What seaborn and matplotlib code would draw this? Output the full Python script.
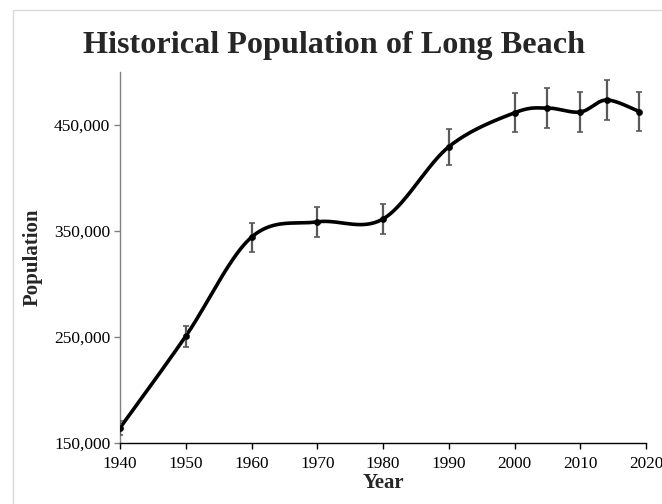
import numpy as np
import pandas as pd
import matplotlib
matplotlib.use("Agg")
import matplotlib.pyplot as plt
import seaborn as sns
from matplotlib.patches import Rectangle
from matplotlib.ticker import FuncFormatter

years = [1940, 1950, 1960, 1970, 1980, 1990, 2000, 2005, 2010, 2014, 2019]
population = [164271, 250767, 344168, 358633, 361355, 429433, 461522, 466000, 462257, 473577, 462628]
errors = [6600, 10000, 13800, 14300, 14500, 17200, 18500, 18600, 18500, 18900, 18500]
y_ticks = [150000, 250000, 350000, 450000]
x_ticks = [1940, 1950, 1960, 1970, 1980, 1990, 2000, 2010, 2020]


def smooth_curve(xs, ys, sx=6.6, sy=107 / 100000, n=40):
    """Catmull-Rom through the points, done in roughly pixel space like an Excel smoothed line."""
    p = np.column_stack([np.asarray(xs, float) * sx, np.asarray(ys, float) * sy])
    p = np.vstack([p[0], p, p[-1]])
    out = []
    t = np.linspace(0, 1, n)[:, None]
    for i in range(1, len(p) - 2):
        p0, p1, p2, p3 = p[i - 1], p[i], p[i + 1], p[i + 2]
        seg = 0.5 * ((2 * p1) + (-p0 + p2) * t + (2 * p0 - 5 * p1 + 4 * p2 - p3) * t ** 2
                     + (-p0 + 3 * p1 - 3 * p2 + p3) * t ** 3)
        out.append(seg if i == 1 else seg[1:])
    out = np.vstack(out)
    return out[:, 0] / sx, out[:, 1] / sy


sns.set_style("ticks")
plt.rcParams["font.family"] = ["Liberation Serif", "DejaVu Serif"]

fig = plt.figure(figsize=(6.62, 5.04), dpi=100)
ax = fig.add_axes([120 / 662, 61 / 504, 526 / 662, 371 / 504])

# light chart-area border
fig.patches.append(Rectangle((13 / 662, -0.05), 1.0, 1 - 10 / 504 + 0.05,
                             transform=fig.transFigure, fill=False,
                             edgecolor="#d9d9d9", linewidth=1.0))

sx, sy = smooth_curve(years, population)
curve = pd.DataFrame({"Year": sx, "Population": sy})
sns.lineplot(data=curve, x="Year", y="Population", ax=ax, color="black",
             linewidth=2.6, sort=False, estimator=None)

ax.errorbar(years, population, yerr=errors, fmt="none", ecolor="#595959",
            elinewidth=1.6, capsize=2.5, capthick=1.2, zorder=3)

pts = pd.DataFrame({"Year": years, "Population": population})
sns.scatterplot(data=pts, x="Year", y="Population", ax=ax, color="black",
                s=20, edgecolor="black", zorder=4)

ax.set_xlim(1940, 2020)
ax.set_ylim(150000, 500000)
ax.set_xticks(x_ticks)
ax.set_yticks(y_ticks)
ax.yaxis.set_major_formatter(FuncFormatter(lambda v, _: f"{int(v):,}"))

sns.despine(ax=ax)
ax.spines["left"].set_color("#808080")
ax.spines["bottom"].set_color("black")
ax.spines["left"].set_linewidth(1.0)
ax.spines["bottom"].set_linewidth(1.0)
ax.tick_params(axis="y", colors="#808080", length=4, width=1, labelcolor="black",
               labelsize=12.5, pad=3)
ax.tick_params(axis="x", colors="black", length=4, width=1, labelcolor="black",
               labelsize=12.4, pad=5)

ax.set_xlabel("Year", fontsize=15, fontweight="bold", labelpad=1)
ax.set_ylabel("Population", fontsize=15, fontweight="bold", labelpad=8)

fig.text(334 / 662, 1 - 45 / 504, "Historical Population of Long Beach",
         ha="center", va="center", fontsize=23.2, fontweight="bold")

fig.savefig("out.png", dpi=100)
